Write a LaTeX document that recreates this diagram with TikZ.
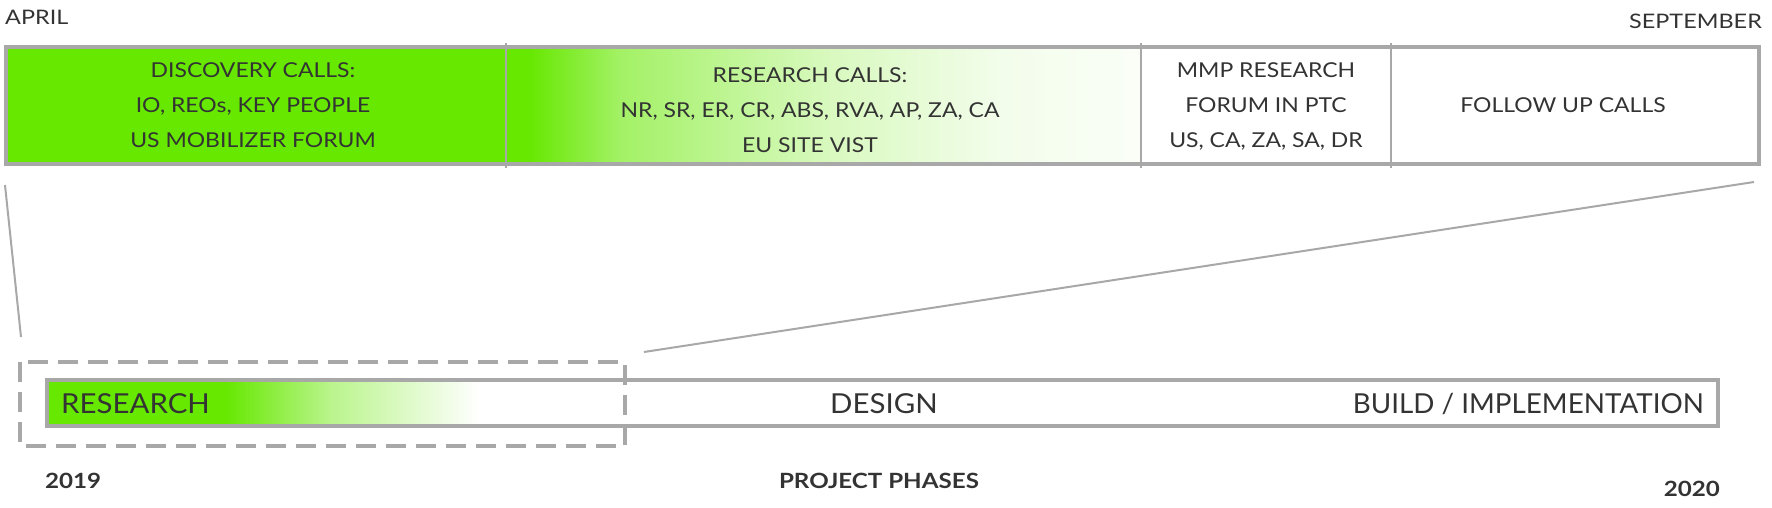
\documentclass[tikz,border=0pt]{standalone}
\usepackage{fontspec}
\setmainfont{Lato}
\newfontfamily\ltbox[FakeStretch=1.12]{Lato}
\newfontfamily\ltphase[FakeStretch=1.07]{Lato}
\newfontfamily\ltbuild[FakeStretch=1.01]{Lato}
\newfontfamily\ltmonth[FakeStretch=1.17]{Lato}
\newfontfamily\ltyear[FakeStretch=1.15]{Lato}
\definecolor{grn}{HTML}{66E800}
\definecolor{bord}{HTML}{A8A8A8}
\definecolor{txt}{HTML}{333333}
\begin{document}
\begin{tikzpicture}[x=1pt,y=-1pt,
  lbl/.style={font=\ltbox\fontsize{20.5}{35}\selectfont, text=txt, align=center, inner sep=0pt},
  month/.style={font=\ltmonth\fontsize{20}{22}\selectfont, text=txt, inner sep=0pt},
  phase/.style={font=\ltphase\fontsize{27.5}{30}\selectfont, text=txt, inner sep=0pt},
  year/.style={font=\ltyear\bfseries\fontsize{21}{24}\selectfont, text=txt, inner sep=0pt},
  frame/.style={draw=bord, line width=3.5pt},
  divider/.style={draw=bord, line width=2pt},
  zoomline/.style={draw=bord, line width=2pt},
  dashbox/.style={draw=bord, line width=4.5pt, dash pattern=on 20pt off 10pt}]
\useasboundingbox (0,0) rectangle (1772,508);
\fill[white] (0,0) rectangle (1772,508);

% top box fills
\fill[grn] (6,47) rectangle (507,164);
\shade[left color=grn, right color=grn] (506,47) rectangle (529,164);
\shade[left color=grn, right color=grn!60] (528,47) rectangle (621,164);
\shade[left color=grn!60, right color=grn!25] (620,47) rectangle (831,164);
\shade[left color=grn!25, right color=grn!8] (830,47) rectangle (1001,164);
\shade[left color=grn!8, right color=grn!3] (1000,47) rectangle (1141,164);

\draw[frame] (6,47) rectangle (1759,164);
\draw[divider] (506,43) -- (506,168);
\draw[divider] (1141,43) -- (1141,168);
\draw[divider] (1391,43) -- (1391,168);

\node[lbl] (s1) at (253,105) {DISCOVERY CALLS:\\IO, REOs, KEY PEOPLE\\US MOBILIZER FORUM};
\node[lbl] (s2) at (810,110) {RESEARCH CALLS:\\NR, SR, ER, CR, ABS, RVA, AP, ZA, CA\\EU SITE VIST};
\node[lbl] (s3) at (1266,106) {MMP RESEARCH\\FORUM IN PTC\\US, CA, ZA, SA, DR};
\node[lbl] (s4) at (1563,105) {FOLLOW UP CALLS};

\node[month, anchor=west] (apr) at (5,17) {APRIL};
\node[month, anchor=east] (sep) at (1762,21) {SEPTEMBER};

% bottom bar
\fill[grn] (47,380) rectangle (226,426);
\shade[left color=grn, right color=grn!45] (225,380) rectangle (331,426);
\shade[left color=grn!45, right color=white] (330,380) rectangle (480,426);
\draw[frame, line width=4pt] (47,380) rectangle (1718,426);
\draw[dashbox] (20,362) rectangle (625,446);

\node[phase, anchor=west] (res) at (61,404) {RESEARCH};
\node[phase] (des) at (884,404) {DESIGN};
\node[phase, font=\ltbuild\fontsize{27.5}{30}\selectfont, anchor=east] (bld) at (1704,404) {BUILD / IMPLEMENTATION};

\node[year, anchor=west] (y19) at (45,481) {2019};
\node[year] (pp) at (879,481) {PROJECT PHASES};
\node[year, anchor=east] (y20) at (1720,489) {2020};

% zoom connectors
\coordinate (tl) at (5,185);
\coordinate (bl) at (21,337);
\coordinate (tr) at (1754,182);
\coordinate (br) at (644,352);
\draw[zoomline] (tl) -- (bl);
\draw[zoomline] (tr) -- (br);
\end{tikzpicture}
\end{document}
